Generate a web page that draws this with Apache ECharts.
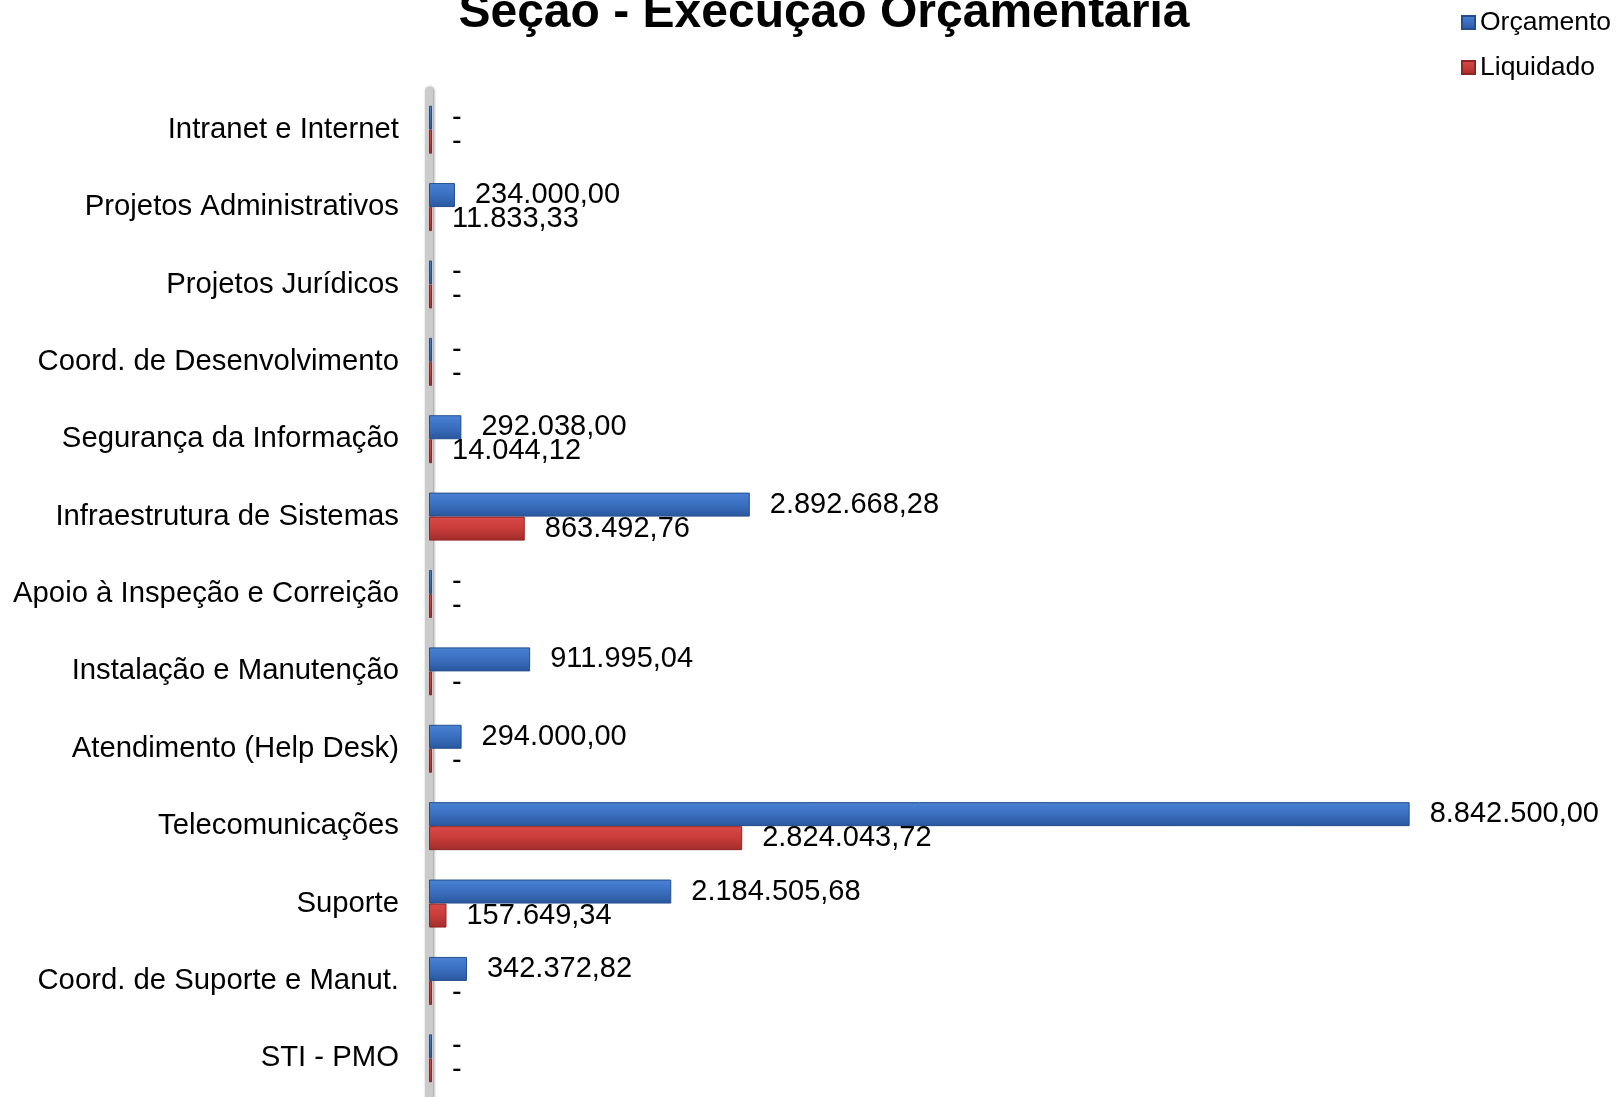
<!DOCTYPE html>
<html>
<head>
<meta charset="utf-8">
<script src="https://cdn.jsdelivr.net/npm/echarts@6/dist/echarts.min.js"></script>
<style>
  html, body { margin: 0; padding: 0; background: #fff; }
  #main { width: 1616px; height: 1097px; }
</style>
</head>
<body>
<div id="main"></div>
<script>
var categories = [
  'Intranet e Internet',
  'Projetos Administrativos',
  'Projetos Jurídicos',
  'Coord. de Desenvolvimento',
  'Segurança da Informação',
  'Infraestrutura de Sistemas',
  'Apoio à Inspeção e Correição',
  'Instalação e Manutenção',
  'Atendimento (Help Desk)',
  'Telecomunicações',
  'Suporte',
  'Coord. de Suporte e Manut.',
  'STI - PMO'
];
var orcamento = [0, 234000.00, 0, 0, 292038.00, 2892668.28, 0, 911995.04, 294000.00, 8842500.00, 2184505.68, 342372.82, 0];
var liquidado = [0, 11833.33, 0, 0, 14044.12, 863492.76, 0, 0, 0, 2824043.72, 157649.34, 0, 0];

// formato brasileiro: 1.234,56 ; zero vira "-"
function fmtBR(v) {
  if (!v) return '-';
  var parts = v.toFixed(2).split('.');
  parts[0] = parts[0].replace(/\B(?=(\d{3})+(?!\d))/g, '.');
  return parts[0] + ',' + parts[1];
}

var chart = echarts.init(document.getElementById('main'));

var labelCfg = {
  show: true,
  position: 'right',
  distance: 20,
  color: '#000',
  fontSize: 29,
  fontFamily: 'Liberation Sans, Arial, sans-serif',
  formatter: function (p) { return fmtBR(p.value); }
};

var option = {
  backgroundColor: '#fff',
  animation: false,
  title: {
    text: 'Seção - Execução Orçamentária',
    left: 824,
    textAlign: 'center',
    top: -10,
    padding: 0,
    textStyle: {
      fontSize: 48,
      fontWeight: 'bold',
      color: '#000',
      fontFamily: 'Liberation Sans, Arial, sans-serif'
    }
  },
  legend: {
    orient: 'vertical',
    left: 1461,
    top: 9,
    padding: 0,
    itemWidth: 13,
    itemHeight: 13,
    itemGap: 18,
    icon: 'rect',
    textStyle: {
      fontSize: 26.5,
      color: '#000',
      fontFamily: 'Liberation Sans, Arial, sans-serif'
    },
    data: ['Orçamento', 'Liquidado']
  },
  grid: {
    left: 429,
    top: 91,
    width: 1109,
    bottom: 0,
    containLabel: false
  },
  xAxis: {
    type: 'value',
    min: 0,
    max: 10000000,
    show: false
  },
  yAxis: {
    type: 'category',
    inverse: true,
    data: categories,
    axisTick: { show: false },
    axisLine: {
      show: true,
      lineStyle: { color: '#cbcbcb', width: 8, shadowColor: 'rgba(0,0,0,0.45)', shadowBlur: 3, shadowOffsetX: 1 }
    },
    axisLabel: {
      margin: 30,
      color: '#000',
      fontSize: 29.3,
      fontFamily: 'Liberation Sans, Arial, sans-serif'
    }
  },
  series: [
    {
      name: 'Orçamento',
      type: 'bar',
      data: orcamento,
      barWidth: 24,
      barGap: '0%',
      barMinHeight: 3,
      itemStyle: {
        color: new echarts.graphic.LinearGradient(0, 0, 0, 1, [
          { offset: 0, color: '#4a82d4' },
          { offset: 0.5, color: '#3a6fc0' },
          { offset: 1, color: '#2a579e' }
        ]),
        borderColor: '#244d8c',
        borderWidth: 1
      },
      label: labelCfg
    },
    {
      name: 'Liquidado',
      type: 'bar',
      data: liquidado,
      barWidth: 24,
      barMinHeight: 3,
      itemStyle: {
        color: new echarts.graphic.LinearGradient(0, 0, 0, 1, [
          { offset: 0, color: '#d84a48' },
          { offset: 0.5, color: '#c83c3a' },
          { offset: 1, color: '#a02c2a' }
        ]),
        borderColor: '#8e2624',
        borderWidth: 1
      },
      label: labelCfg
    }
  ]
};

chart.setOption(option);
</script>
</body>
</html>
